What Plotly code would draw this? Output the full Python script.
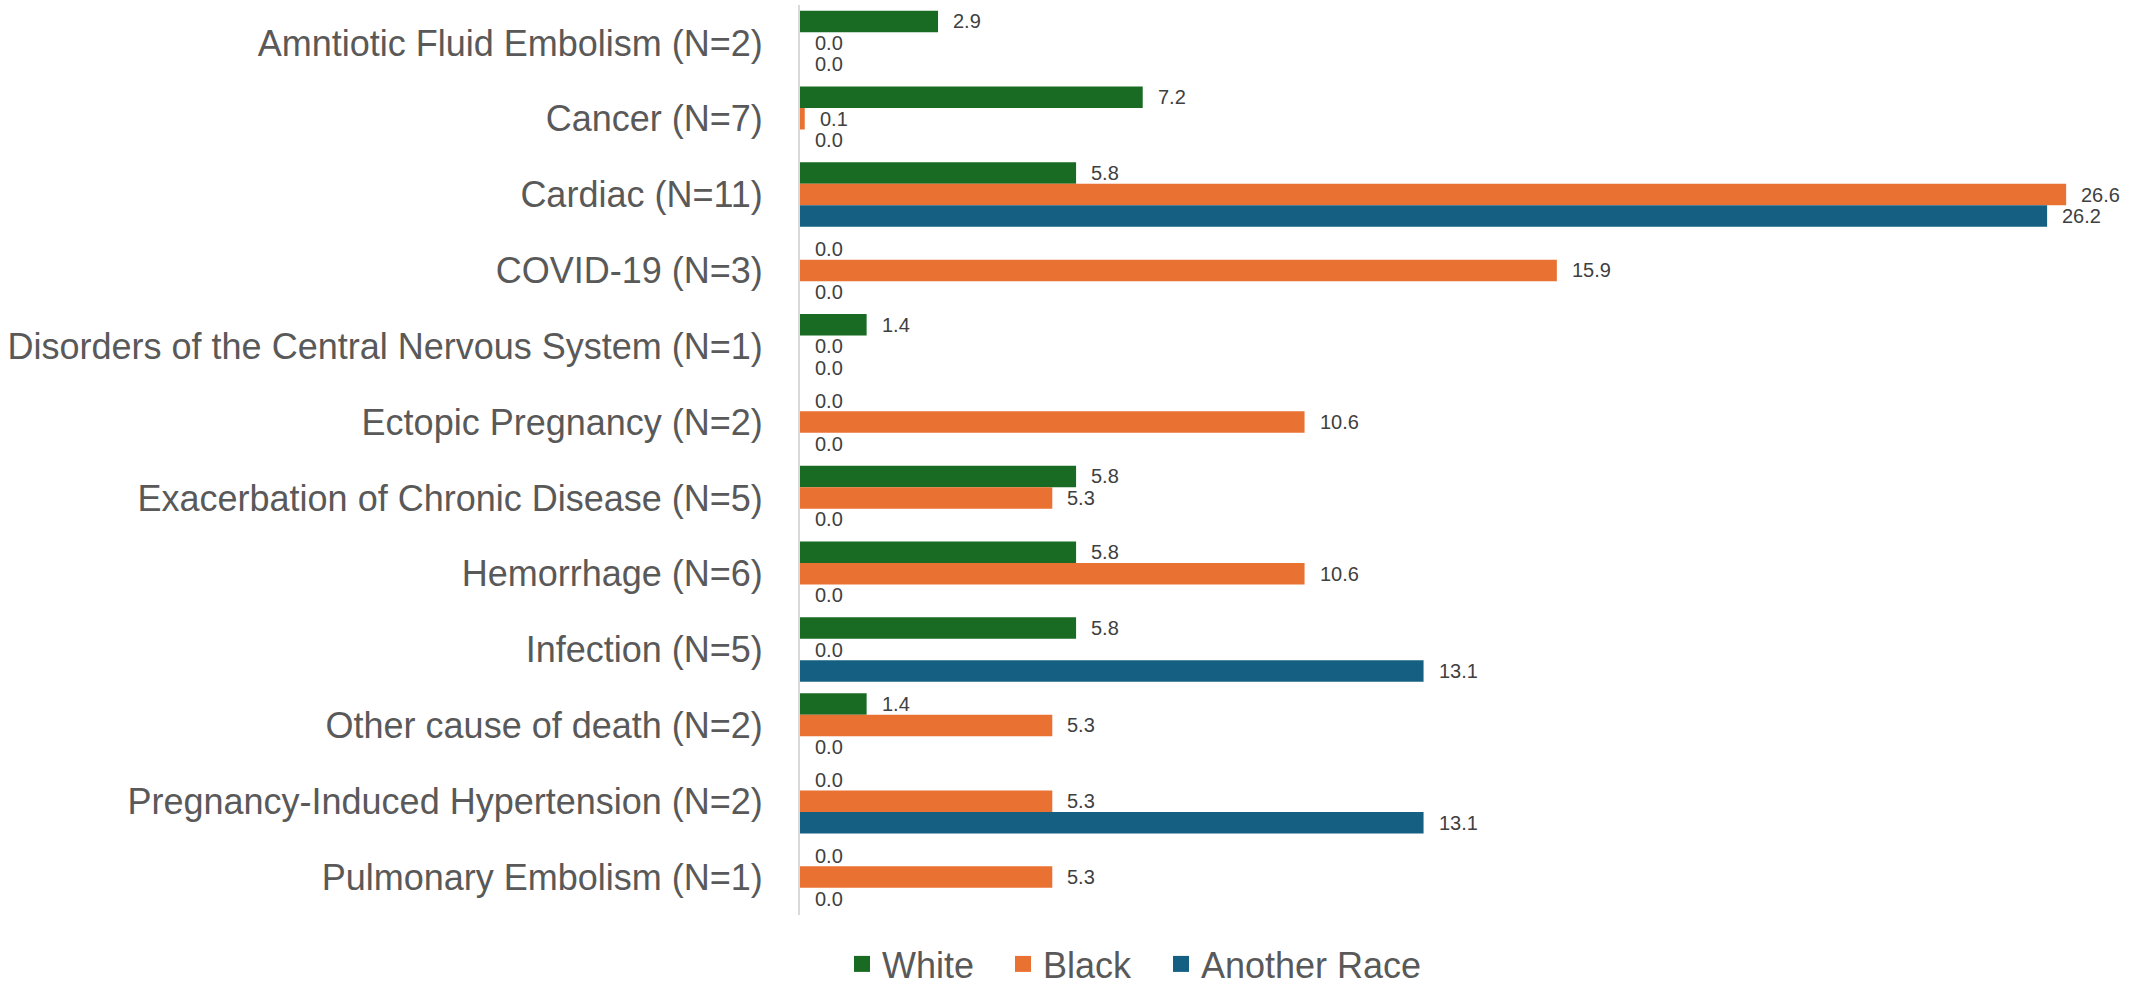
import plotly.graph_objects as go

categories = [
    "Amntiotic Fluid Embolism (N=2)",
    "Cancer (N=7)",
    "Cardiac (N=11)",
    "COVID-19 (N=3)",
    "Disorders of the Central Nervous System (N=1)",
    "Ectopic Pregnancy (N=2)",
    "Exacerbation of Chronic Disease (N=5)",
    "Hemorrhage (N=6)",
    "Infection (N=5)",
    "Other cause of death (N=2)",
    "Pregnancy-Induced Hypertension (N=2)",
    "Pulmonary Embolism (N=1)",
]
white = [2.9, 7.2, 5.8, 0.0, 1.4, 0.0, 5.8, 5.8, 5.8, 1.4, 0.0, 0.0]
black = [0.0, 0.1, 26.6, 15.9, 0.0, 10.6, 5.3, 10.6, 0.0, 5.3, 5.3, 5.3]
another = [0.0, 0.0, 26.2, 0.0, 0.0, 0.0, 0.0, 0.0, 13.1, 0.0, 13.1, 0.0]
series_names = ["White", "Black", "Another Race"]
colors = ["#196B24", "#E97132", "#156082"]

W, H = 2144, 990
ML, MR, MT, MB = 800, 4, 5, 75
plot_w = W - ML - MR
plot_h = H - MT - MB
px_per_unit = 47.6
xmax = plot_w / px_per_unit
bargap = 0.15
FONT = "Liberation Sans, Arial, sans-serif"

fig = go.Figure()
series = [white, black, another]
for name, vals, col in zip(series_names, series, colors):
    fig.add_trace(go.Bar(
        y=categories, x=vals, name=name, orientation="h",
        marker=dict(color=col, line=dict(width=0)),
        hoverinfo="x+name", showlegend=False,
    ))

# legend entries (square swatches), one legend per entry for exact spacing
legend_ids = ["legend", "legend2", "legend3"]
legend_left_px = [842, 1003, 1161]
for name, col, lid in zip(series_names, colors, legend_ids):
    fig.add_trace(go.Scatter(
        x=[None], y=[None], mode="markers", name=name,
        marker=dict(symbol="square", size=20, color=col),
        showlegend=True, legend=lid,
    ))

# data labels
cat_px = plot_h / len(categories)
slot_px = cat_px * (1 - bargap) / 3
annotations = []
for k, vals in enumerate(series):
    shift = (1 - k) * slot_px
    for c, v in zip(categories, vals):
        annotations.append(dict(
            x=v, y=c, xref="x", yref="y", text=f"{v:.1f}",
            showarrow=False, xanchor="left", yanchor="middle",
            xshift=13, yshift=shift,
            font=dict(family=FONT, size=20, color="#404040"),
        ))

legend_common = dict(
    orientation="h", xanchor="left",
    yref="container", y=1 - 964 / H, yanchor="middle",
    font=dict(family=FONT, size=36, color="#595959"),
    itemsizing="trace", bgcolor="rgba(0,0,0,0)",
)
layout_legends = {}
for lid, lx in zip(legend_ids, legend_left_px):
    layout_legends[lid] = dict(legend_common, xref="container", x=lx / W)

fig.update_layout(
    width=W, height=H,
    margin=dict(l=ML, r=MR, t=MT, b=MB, pad=0),
    paper_bgcolor="white", plot_bgcolor="white",
    barmode="group", bargap=bargap, bargroupgap=0,
    annotations=annotations,
    showlegend=True,
    xaxis=dict(range=[0, xmax], showgrid=False, showticklabels=False, zeroline=False,
               showline=False, ticks=""),
    yaxis=dict(autorange="reversed", showgrid=False, ticks="", showline=True,
               linecolor="#d9d9d9", linewidth=2, ticklabelstandoff=28,
               tickfont=dict(family=FONT, size=36, color="#595959")),
    **layout_legends,
)

fig.write_html("out.html")
